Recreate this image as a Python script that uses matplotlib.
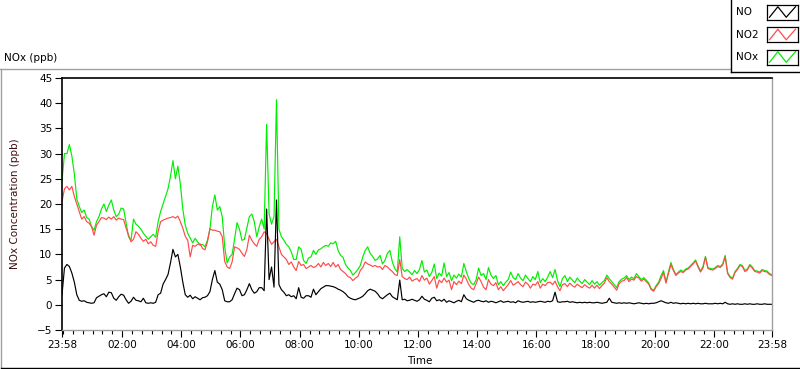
import matplotlib
matplotlib.use("Agg")
import matplotlib.pyplot as plt
from matplotlib.lines import Line2D
import numpy as np

plt.rcParams['font.family'] = ['DejaVu Sans']

# ---------------- data (5-minute samples, 23:58 -> 23:58) ----------------
start_min = -2
step_min = 5

nox = [
    24.5, 30.0, 30.0, 31.8, 29.5, 26.0, 21.0, 19.5, 18.3, 18.8, 17.3, 17.0,
    15.5, 14.8, 16.5, 17.5, 19.0, 20.0, 18.5, 19.8, 20.8, 18.8, 17.5, 18.0,
    19.2, 19.0, 16.2, 13.5, 12.8, 17.0, 16.0, 15.6, 15.0, 14.2, 13.6, 13.0,
    13.5, 14.0, 13.4, 16.5, 18.5, 20.0, 21.5, 23.0, 25.5, 28.6, 25.0, 27.5,
    24.0, 19.0, 15.8, 14.2, 13.2, 12.3, 13.2, 12.5, 11.8, 12.0, 11.5, 12.8,
    15.0, 19.5, 21.8, 18.8, 19.5, 17.5, 11.5, 8.3, 9.5, 10.0, 13.0, 16.3,
    15.0, 12.8, 13.0, 15.2, 17.5, 18.0, 16.5, 13.5, 15.5, 17.0, 15.0, 35.8,
    18.0, 16.0, 17.5, 40.7, 15.0, 13.5, 12.8, 12.0, 11.5, 10.5, 9.0, 9.0,
    11.5, 11.0, 8.8, 8.2, 9.3, 9.5, 10.8, 10.0, 10.9, 11.1, 11.5, 11.8,
    11.6, 12.3, 12.1, 12.6, 10.8, 9.8, 9.4, 8.0, 7.3, 6.8, 5.9, 6.4,
    7.0, 7.8, 9.5, 10.8, 11.5, 10.2, 9.6, 8.8, 9.1, 9.8, 8.1, 8.8,
    10.2, 10.8, 8.5, 7.2, 6.5, 13.5, 7.2, 6.6, 7.0, 6.5, 6.0, 6.8,
    6.2, 7.0, 8.8, 6.5, 6.9, 5.6, 6.4, 8.1, 5.2, 6.3, 5.7, 8.3,
    5.6, 6.4, 4.8, 5.9, 5.3, 6.1, 5.5, 8.2, 6.6, 5.2, 4.3, 4.0,
    5.0, 7.3, 5.8, 6.2, 5.0, 7.4, 5.9, 5.2, 5.8, 4.0, 4.6, 3.8,
    4.5, 5.0, 6.5, 5.4, 5.0, 6.2, 5.3, 4.8, 5.9, 5.2, 4.6, 5.6,
    5.0, 6.6, 4.4, 5.2, 4.6, 5.5, 6.6, 5.4, 7.0, 4.8, 3.6, 5.2,
    5.8, 4.6, 5.5, 4.9, 4.4, 5.3, 4.7, 4.2, 5.0, 4.5, 4.0, 4.8,
    4.1, 4.6, 3.9, 4.4, 4.8, 5.9, 5.2, 4.6, 4.0, 3.4, 4.6, 5.1,
    5.3, 5.8, 5.0, 5.5, 5.2, 6.2, 5.6, 5.0, 5.4, 4.9, 4.3, 3.2,
    2.9, 3.8, 4.5, 5.8, 6.8, 4.5, 6.5, 8.4, 7.0, 6.0, 6.5, 6.9,
    6.6, 7.1, 7.3, 7.8, 8.3, 8.9, 7.7, 6.7, 7.6, 9.6, 7.4, 7.2,
    7.1, 7.4, 7.8, 7.6, 8.1, 9.8, 6.4, 5.6, 5.3, 6.6, 7.2, 8.0,
    7.8, 6.8, 7.1, 8.0, 7.5, 6.8, 6.7, 6.5, 7.0, 6.8, 6.7, 6.2, 6.0,
]

no2 = [
    20.5, 23.0, 23.5, 22.8, 23.5, 21.5, 20.0, 18.5, 17.0, 17.5, 16.5, 16.2,
    15.5, 13.8, 15.8, 16.5, 17.3, 17.2, 16.9, 17.4, 17.0, 17.5, 16.8, 17.2,
    17.0, 16.9, 15.2, 13.8, 12.5, 13.0, 14.5, 14.0, 13.2, 12.6, 13.0, 12.1,
    12.5, 11.8, 11.6, 14.5, 16.5, 16.8, 17.0, 17.2, 17.3, 17.5, 17.2, 17.6,
    16.5, 15.2, 13.6, 12.8, 9.5, 11.8, 11.6, 12.0, 12.1, 11.2, 10.9, 12.5,
    15.1, 14.8, 14.8, 14.6, 14.5, 13.5, 8.6, 7.5, 7.2, 8.5, 11.5, 11.3,
    11.0, 10.2, 9.6, 11.0, 13.8, 12.8, 12.1, 11.6, 13.0, 13.5, 14.5, 14.1,
    13.0, 12.0, 12.5, 13.0, 11.5, 10.0, 9.5, 9.0, 8.0, 8.5, 7.5, 6.8,
    8.6, 7.8, 8.0, 7.2, 7.5, 7.8, 7.4, 7.6, 8.2, 7.5, 8.4, 7.8,
    8.2, 7.6, 8.4, 7.5, 8.0, 7.0, 6.6, 6.2, 5.6, 5.4, 4.8, 5.3,
    5.6, 6.8, 7.4, 8.5, 8.1, 7.9, 7.6, 7.8, 7.5, 7.6, 7.0, 7.8,
    7.5, 7.0, 6.6, 6.0, 5.8, 9.0, 5.6, 5.2, 5.0, 5.5, 4.7, 5.0,
    5.2, 4.6, 5.8, 4.9, 5.3, 4.1, 4.8, 5.6, 3.3, 4.9, 4.4, 5.3,
    4.5, 4.9, 3.0, 4.6, 4.0, 4.7, 4.2, 5.9, 5.1, 4.0, 3.3, 3.0,
    4.2, 5.5, 4.6, 3.5, 3.0, 5.0, 4.1, 3.8, 4.4, 3.0, 3.6, 2.8,
    3.4, 4.0, 4.8, 3.9, 4.2, 4.6, 4.0, 3.6, 4.5, 4.1, 3.3, 4.1,
    3.9, 4.6, 3.3, 4.1, 3.8, 4.4, 4.5, 4.0, 4.7, 3.6, 2.8, 4.0,
    4.2, 3.6, 4.3, 3.8, 3.5, 4.1, 3.7, 3.4, 4.0, 3.6, 3.3, 3.9,
    3.3, 3.9, 3.2, 3.8, 4.3, 5.4, 4.6, 4.1, 3.5, 2.9, 4.2, 4.7,
    4.8, 5.4, 4.6, 5.1, 4.9, 5.6, 5.3, 4.7, 5.1, 4.6, 4.1, 3.0,
    2.7, 3.6, 4.2, 5.2, 6.4, 4.3, 6.2, 8.0, 6.8, 5.8, 6.3, 6.6,
    6.4, 6.9, 7.1, 7.6, 8.1, 8.7, 7.5, 6.5, 7.3, 9.4, 7.2, 7.0,
    6.9, 7.2, 7.6, 7.4, 7.9, 9.5, 6.2, 5.4, 5.1, 6.4, 7.0, 7.8,
    7.6, 6.6, 6.9, 7.8, 7.3, 6.6, 6.5, 6.3, 6.8, 6.6, 6.5, 6.0, 5.8,
]

no = [
    2.0, 7.3, 8.0, 7.6, 6.3, 4.5, 2.0, 0.9, 0.7, 0.8, 0.5, 0.4,
    0.3, 0.4, 1.4, 1.7, 2.0, 2.2, 1.6, 2.5, 2.4, 1.3, 0.9, 1.6,
    2.1, 1.9, 1.0, 0.3, 0.7, 1.5, 0.9, 0.8, 0.6, 1.3, 0.4, 0.3,
    0.4, 0.3, 0.5, 2.0, 2.3, 4.1, 5.0, 6.0, 8.3, 11.0, 9.5, 10.0,
    7.5, 4.5, 2.0, 1.5, 1.9, 1.2, 1.6, 1.3, 1.0, 1.4, 1.5, 1.8,
    2.6, 5.0, 6.8, 4.5, 4.1, 3.0, 0.8, 0.6, 0.6, 1.0, 2.2, 3.3,
    3.0, 1.8, 2.0, 3.0, 4.2, 3.0, 2.3, 2.6, 3.4, 3.4, 2.8, 19.0,
    5.0, 7.5, 3.5, 20.8, 4.0, 3.0, 2.5, 1.8, 2.0, 1.6, 1.8, 1.2,
    3.4, 1.5, 1.3, 1.8, 1.8, 1.5, 3.1, 2.0, 2.6, 3.2, 3.5, 3.8,
    3.8, 3.7, 3.6, 3.4, 3.1, 2.9, 2.6, 2.2, 1.6, 1.3, 1.1, 1.0,
    1.2, 1.4, 1.7, 2.2, 2.8, 3.1, 2.9, 2.7, 2.2, 1.5, 1.2, 1.6,
    2.0, 2.3, 1.6, 1.3, 1.0, 4.9, 1.0, 1.1, 0.8, 0.9, 1.1, 0.9,
    0.7, 1.0, 1.7, 1.1, 0.9, 0.6, 1.3, 1.5, 0.8, 1.0, 0.7, 1.1,
    0.5, 0.8, 0.6, 0.4, 0.7, 0.9, 0.6, 2.0, 1.2, 0.9, 0.7, 0.5,
    0.8, 0.9, 0.7, 0.6, 0.8, 0.5, 0.7, 0.6, 0.4, 0.6, 0.8, 0.5,
    0.6, 0.7, 0.5, 0.6, 0.4, 0.8, 0.6, 0.5, 0.6, 0.7, 0.5, 0.6,
    0.5, 0.6, 0.7, 0.6, 0.5, 0.7, 0.6, 0.8, 2.5, 0.6, 0.5, 0.6,
    0.6, 0.7, 0.5, 0.6, 0.5, 0.4, 0.5, 0.4, 0.5, 0.4, 0.5, 0.4,
    0.4, 0.5, 0.4, 0.3, 0.4, 0.5, 1.3, 0.5, 0.4, 0.3, 0.4, 0.3,
    0.4, 0.3, 0.4, 0.3, 0.2, 0.3, 0.4, 0.3, 0.2, 0.3, 0.2, 0.3,
    0.3, 0.4, 0.6, 0.8, 0.6, 0.4, 0.3, 0.5, 0.3, 0.4, 0.3, 0.2,
    0.3, 0.2, 0.3, 0.2, 0.3, 0.2, 0.3, 0.2, 0.2, 0.3, 0.2, 0.2,
    0.2, 0.3, 0.2, 0.3, 0.2, 0.5, 0.2, 0.1, 0.2, 0.1, 0.2, 0.1,
    0.1, 0.2, 0.1, 0.2, 0.1, 0.1, 0.2, 0.1, 0.1, 0.2, 0.1, 0.1, 0.1,
]

series_names = ["NO", "NO2", "NOx"]
tick_minutes = [-2, 120, 240, 360, 480, 600, 720, 840, 960, 1080, 1200, 1320, 1438]
tick_labels = ["23:58", "02:00", "04:00", "06:00", "08:00", "10:00", "12:00",
               "14:00", "16:00", "18:00", "20:00", "22:00", "23:58"]
y_ticks = [-5, 0, 5, 10, 15, 20, 25, 30, 35, 40, 45]

# ---------------- figure ----------------
W, H = 800, 369
fig = plt.figure(figsize=(W / 100, H / 100), dpi=100)
fig.patch.set_facecolor("white")


def fx(px):
    return px / W


def fy(py):
    return 1 - py / H


t_hours = (start_min + step_min * np.arange(len(no))) / 60.0

col_no, col_no2, col_nox = "black", "#ff4a4a", "#00ee00"
FS = 7.5
LW = 0.85

ax = fig.add_axes([fx(62), fy(330), fx(772) - fx(62), fy(78) - fy(330)])
ax.plot(t_hours, nox, color=col_nox, lw=LW)
ax.plot(t_hours, no2, color=col_no2, lw=LW)
ax.plot(t_hours, no, color=col_no, lw=LW)

ax.set_xlim(tick_minutes[0] / 60, tick_minutes[-1] / 60)
ax.set_ylim(y_ticks[0], y_ticks[-1])
ax.set_yticks(y_ticks)
ax.set_xticks([m / 60 for m in tick_minutes])
ax.set_xticklabels(tick_labels)
ax.set_xticks(np.arange(0, 24, 1 / 3), minor=True)
ax.tick_params(axis="both", which="major", length=5, width=0.8,
               labelsize=FS, pad=2, colors="black")
ax.tick_params(axis="x", which="minor", length=3, width=0.8)
for s in ["top", "left"]:
    ax.spines[s].set_color("black")
    ax.spines[s].set_linewidth(1.2)
for s in ["bottom", "right"]:
    ax.spines[s].set_color("#a0a0a0")
    ax.spines[s].set_linewidth(1.0)

fig.text(fx(420), fy(361), "Time", ha="center", va="center", fontsize=FS)
fig.text(fx(15), fy(204), "NOx Concentration (ppb)", ha="center", va="center",
         rotation=90, fontsize=FS, color="#401010")
fig.text(fx(4), fy(58), "NOx (ppb)", ha="left", va="center", fontsize=FS)

# outer panel frame
fig.add_artist(Line2D([fx(0), fx(730)], [fy(69), fy(69)], color="#a0a0a0", lw=1.0))
fig.add_artist(Line2D([fx(1), fx(1)], [fy(69), fy(367)], color="#a0a0a0", lw=1.0))
fig.add_artist(Line2D([fx(1), fx(799)], [fy(367.5), fy(367.5)], color="black", lw=1.0))

# legend box
fig.add_artist(Line2D([fx(730.5), fx(730.5)], [fy(0), fy(72)], color="black", lw=1.0))
fig.add_artist(Line2D([fx(730.5), fx(800)], [fy(72), fy(72)], color="black", lw=1.0))

leg_colors = [col_no, col_no2, col_nox]
leg_centers = [12, 34.5, 57]
for name, c, yc in zip(series_names, leg_colors, leg_centers):
    fig.text(fx(736), fy(yc), name, ha="left", va="center", fontsize=FS)
    lax = fig.add_axes([fx(767), fy(yc + 7.5), fx(31), 15 / H])
    lax.plot([0.08, 0.35, 0.62, 0.92], [0.15, 0.85, 0.15, 0.85], color=c, lw=0.9)
    lax.set_xlim(0, 1)
    lax.set_ylim(0, 1)
    lax.set_xticks([])
    lax.set_yticks([])
    for s in lax.spines.values():
        s.set_color("black")
        s.set_linewidth(0.9)

fig.savefig("out.png", dpi=100, facecolor="white")
